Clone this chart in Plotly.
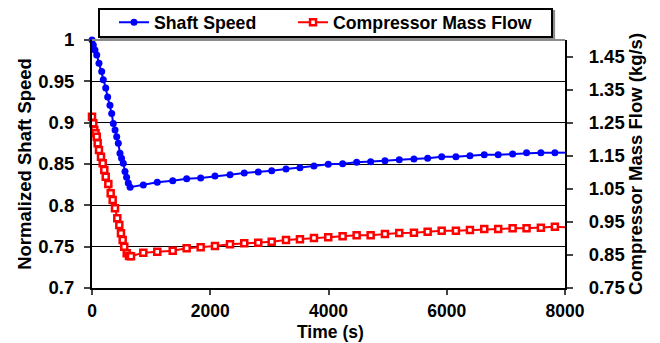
import plotly.graph_objects as go

# ---- data ----
shaft_time = [0, 22, 50, 80, 118, 164, 191, 232, 265, 304, 333, 360, 390, 418, 445, 473,
              500, 529, 558, 585, 614, 645,
              868, 1104, 1365, 1601, 1838, 2080, 2334, 2575, 2812, 3039, 3281, 3517, 3754,
              3996, 4239, 4476, 4713, 4955, 5197, 5445, 5677, 5914, 6155, 6392, 6634, 6870,
              7114, 7350, 7592, 7829]
shaft_speed = [1.0, 0.994, 0.988, 0.982, 0.972, 0.962, 0.952, 0.942, 0.931, 0.921, 0.911,
               0.899, 0.891, 0.883, 0.875, 0.863, 0.857, 0.851, 0.841, 0.834, 0.827, 0.822,
               0.8246, 0.8279, 0.8298, 0.8322, 0.8331, 0.8355, 0.8371, 0.8391, 0.8404, 0.8419,
               0.8440, 0.8455, 0.8476, 0.8496, 0.8504, 0.8521, 0.8528, 0.8540, 0.8552, 0.8560,
               0.8569, 0.8588, 0.8588, 0.8600, 0.8612, 0.8612, 0.8621, 0.8637, 0.8637, 0.8637]

flow_time = [0, 22, 39, 60, 80, 96, 118, 152, 181, 208, 232, 276, 316, 350, 389, 428, 462,
             490, 519, 546, 587, 626, 660,
             868, 1104, 1365, 1601, 1838, 2080, 2334, 2575, 2812, 3039, 3281, 3517, 3754,
             3996, 4239, 4476, 4713, 4955, 5197, 5445, 5677, 5914, 6155, 6392, 6634, 6870,
             7114, 7350, 7592, 7829]
mass_flow = [1.268, 1.248, 1.228, 1.218, 1.2075, 1.1876, 1.167, 1.147, 1.127, 1.107, 1.0866,
             1.0645, 1.0364, 1.016, 0.991, 0.961, 0.9405, 0.9154, 0.895, 0.875, 0.855, 0.8468,
             0.846,
             0.8568, 0.8598, 0.8628, 0.8700, 0.8731, 0.8770, 0.8822, 0.8852, 0.8870, 0.8900,
             0.8952, 0.8973, 0.9012, 0.9033, 0.9063, 0.9094, 0.9094, 0.9133, 0.9163, 0.9172,
             0.9203, 0.9233, 0.9233, 0.9254, 0.9284, 0.9284, 0.9305, 0.9305, 0.9324, 0.9354]

# line continues past the last marker
tail_time = [7829, 8060]
tail_speed = [0.8637, 0.8637]
tail_flow = [0.9354, 0.933]

x_ticks = [0, 2000, 4000, 6000, 8000]
y_ticks = [0.7, 0.75, 0.8, 0.85, 0.9, 0.95, 1.0]
y_ticktext = ["0.7", "0.75", "0.8", "0.85", "0.9", "0.95", "1"]
y2_ticks = [0.75, 0.85, 0.95, 1.05, 1.15, 1.25, 1.35, 1.45]

BLUE = "#0000FF"
RED = "#FF0000"
FAMILY = "Liberation Sans, Arial, sans-serif"
FONT = dict(family=FAMILY, size=18.5, color="black", weight="bold")
XFONT = dict(family=FAMILY, size=17.5, color="black", weight="bold")
LEG_FONT = dict(family=FAMILY, size=17.7, color="black", weight="bold")

fig = go.Figure()
fig.add_trace(go.Scatter(x=tail_time, y=tail_speed, mode="lines", line=dict(color=BLUE, width=2),
                         showlegend=False, hoverinfo="skip"))
fig.add_trace(go.Scatter(x=tail_time, y=tail_flow, mode="lines", line=dict(color=RED, width=2),
                         showlegend=False, hoverinfo="skip", yaxis="y2"))
fig.add_trace(go.Scatter(x=shaft_time, y=shaft_speed, mode="lines+markers", name="Shaft Speed",
                         line=dict(color=BLUE, width=2),
                         marker=dict(symbol="circle", size=7, color=BLUE),
                         cliponaxis=False, legend="legend"))
fig.add_trace(go.Scatter(x=flow_time, y=mass_flow, mode="lines+markers", name="Compressor Mass Flow",
                         line=dict(color=RED, width=2),
                         marker=dict(symbol="square", size=6, color="white",
                                     line=dict(color=RED, width=2.5)),
                         yaxis="y2", cliponaxis=False, legend="legend2"))

leg_common = dict(orientation="h", y=1.07, xanchor="left", yanchor="middle",
                  bgcolor="rgba(0,0,0,0)", borderwidth=0, font=LEG_FONT, itemwidth=30)

fig.update_layout(
    width=660, height=343,
    margin=dict(l=92, r=95, t=40, b=55, autoexpand=False),
    paper_bgcolor="white", plot_bgcolor="white",
    font=FONT,
    showlegend=True,
    legend=dict(x=0.0465, **leg_common),
    legend2=dict(x=0.425, **leg_common),
    xaxis=dict(range=[0, 8000], tickvals=x_ticks, ticks="outside", ticklen=5, tickwidth=2,
               showline=True, linecolor="black", linewidth=2, showgrid=False, zeroline=False,
               ticklabelstandoff=1, automargin=False, tickfont=XFONT),
    yaxis=dict(range=[0.7, 1.0], tickvals=y_ticks, ticktext=y_ticktext,
               ticks="outside", ticklen=6, tickwidth=2,
               showline=True, linecolor="black", linewidth=2, showgrid=True, gridcolor="black",
               gridwidth=1, zeroline=False, ticklabelstandoff=6, automargin=False,
               title=dict(text="Normalized Shaft Speed", standoff=2, font=FONT)),
    yaxis2=dict(range=[0.75, 1.5], tickvals=y2_ticks, tickformat=".2f", overlaying="y", side="right",
                ticks="outside", ticklen=6, tickwidth=2,
                showline=True, linecolor="black", linewidth=2, showgrid=False, zeroline=False,
                ticklabelstandoff=12, automargin=False,
                title=dict(text="Compressor Mass Flow (kg/s)", standoff=4, font=FONT)),
    annotations=[
        dict(text="Time (s)", xref="paper", yref="paper", x=0.504, y=-0.177,
             xanchor="center", yanchor="middle", showarrow=False, font=XFONT),
    ],
    shapes=[
        dict(type="line", xref="paper", yref="paper", x0=0, x1=1, y0=1, y1=1,
             line=dict(color="#8c8c8c", width=2), layer="above"),
        dict(type="rect", xref="paper", yref="paper", x0=0.019, x1=0.977, y0=1.004, y1=1.117,
             line=dict(color="#8c8c8c", width=2), fillcolor="#8c8c8c", layer="below"),
        dict(type="rect", xref="paper", yref="paper", x0=0.0148, x1=0.9725, y0=1.012, y1=1.125,
             line=dict(color="black", width=2), fillcolor="white", layer="below"),
    ],
)

fig.write_html("out.html")
